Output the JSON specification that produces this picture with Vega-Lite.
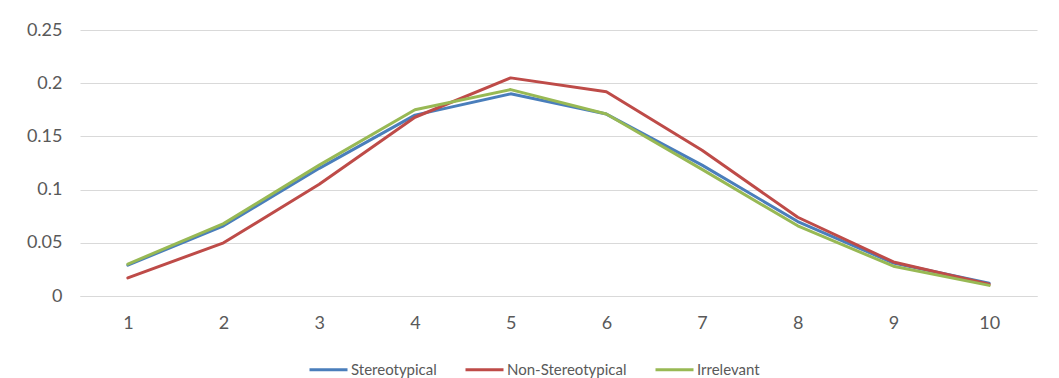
{
  "$schema": "https://vega.github.io/schema/vega-lite/v6.json",
  "width": 957,
  "height": 266,
  "autosize": {"type": "none"},
  "padding": {"left": 80, "top": 30, "right": 22, "bottom": 82},
  "background": "white",
  "config": {
    "view": {"stroke": null},
    "font": "Lato"
  },
  "data": {
    "values": [
      {"x": 1, "series": "Stereotypical", "v": 0.029},
      {"x": 2, "series": "Stereotypical", "v": 0.066},
      {"x": 3, "series": "Stereotypical", "v": 0.12},
      {"x": 4, "series": "Stereotypical", "v": 0.17},
      {"x": 5, "series": "Stereotypical", "v": 0.19},
      {"x": 6, "series": "Stereotypical", "v": 0.171},
      {"x": 7, "series": "Stereotypical", "v": 0.123},
      {"x": 8, "series": "Stereotypical", "v": 0.07},
      {"x": 9, "series": "Stereotypical", "v": 0.031},
      {"x": 10, "series": "Stereotypical", "v": 0.012},
      {"x": 1, "series": "Non-Stereotypical", "v": 0.017},
      {"x": 2, "series": "Non-Stereotypical", "v": 0.05},
      {"x": 3, "series": "Non-Stereotypical", "v": 0.105},
      {"x": 4, "series": "Non-Stereotypical", "v": 0.168},
      {"x": 5, "series": "Non-Stereotypical", "v": 0.205},
      {"x": 6, "series": "Non-Stereotypical", "v": 0.192},
      {"x": 7, "series": "Non-Stereotypical", "v": 0.137},
      {"x": 8, "series": "Non-Stereotypical", "v": 0.074},
      {"x": 9, "series": "Non-Stereotypical", "v": 0.032},
      {"x": 10, "series": "Non-Stereotypical", "v": 0.011},
      {"x": 1, "series": "Irrelevant", "v": 0.03},
      {"x": 2, "series": "Irrelevant", "v": 0.068},
      {"x": 3, "series": "Irrelevant", "v": 0.123},
      {"x": 4, "series": "Irrelevant", "v": 0.175},
      {"x": 5, "series": "Irrelevant", "v": 0.194},
      {"x": 6, "series": "Irrelevant", "v": 0.171},
      {"x": 7, "series": "Irrelevant", "v": 0.119},
      {"x": 8, "series": "Irrelevant", "v": 0.066},
      {"x": 9, "series": "Irrelevant", "v": 0.028},
      {"x": 10, "series": "Irrelevant", "v": 0.01}
    ]
  },
  "mark": {"type": "line", "strokeWidth": 3, "strokeJoin": "round", "strokeCap": "round"},
  "encoding": {
    "x": {
      "field": "x",
      "type": "ordinal",
      "title": null,
      "scale": {"paddingInner": 0, "paddingOuter": 0.5},
      "axis": {
        "labelAngle": 0,
        "labelFontSize": 18,
        "labelColor": "#595959",
        "labelPadding": 18,
        "ticks": false,
        "domain": true,
        "domainColor": "#d9d9d9",
        "grid": false
      }
    },
    "y": {
      "field": "v",
      "type": "quantitative",
      "title": null,
      "scale": {"domain": [0, 0.25], "nice": false},
      "axis": {
        "values": [0, 0.05, 0.1, 0.15, 0.2, 0.25],
        "labelExpr": "datum.value === 0 ? '0' : format(datum.value, '.2~f')",
        "labelFontSize": 18,
        "labelColor": "#595959",
        "labelPadding": 18,
        "ticks": false,
        "domain": false,
        "grid": true,
        "gridColor": "#d9d9d9",
        "gridWidth": 1
      }
    },
    "color": {
      "field": "series",
      "type": "nominal",
      "sort": ["Stereotypical", "Non-Stereotypical", "Irrelevant"],
      "scale": {
        "domain": ["Stereotypical", "Non-Stereotypical", "Irrelevant"],
        "range": ["#4a7ebb", "#be4b48", "#98b954"]
      },
      "legend": {
        "title": null,
        "orient": "none",
        "direction": "horizontal",
        "legendX": 228,
        "legendY": 319,
        "symbolType": "stroke",
        "symbolSize": 1444,
        "symbolStrokeWidth": 3,
        "labelFontSize": 15,
        "labelColor": "#595959",
        "labelOffset": 2,
        "columnPadding": 22
      }
    }
  }
}
